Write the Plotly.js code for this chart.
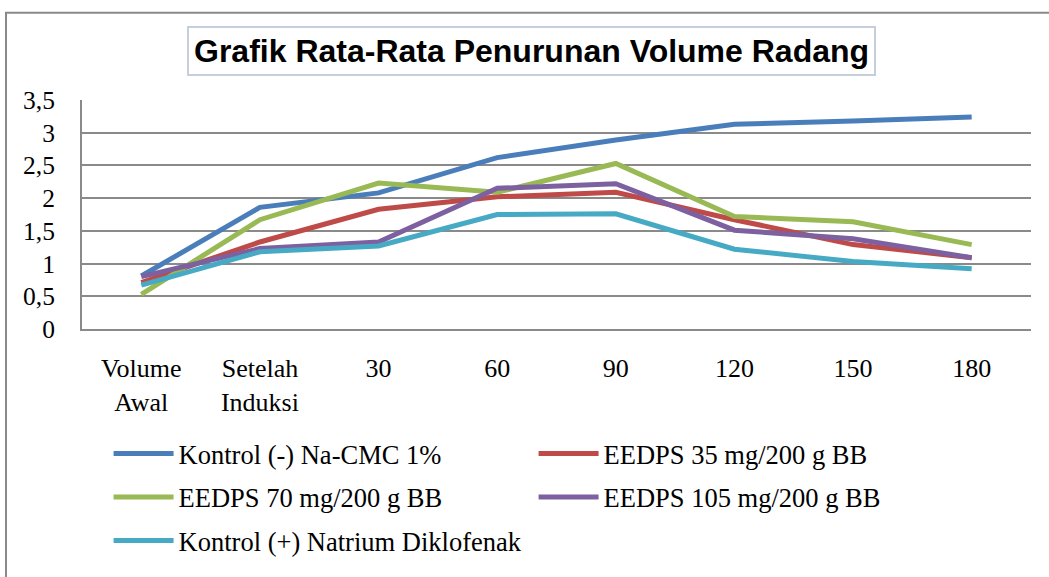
<!DOCTYPE html>
<html>
<head>
<meta charset="utf-8">
<script src="https://cdn.plot.ly/plotly-3.0.1.min.js"></script>
<style>html,body{margin:0;padding:0;background:#fff;}#chart{width:1049px;height:577px;}</style>
</head>
<body>
<div id="chart"></div>
<script>
const categories = ["Volume<br>Awal", "Setelah<br>Induksi", "30", "60", "90", "120", "150", "180"];
const seriesNames = ["Kontrol (-) Na-CMC 1%", "EEDPS 35 mg/200 g BB", "EEDPS 70 mg/200 g BB", "EEDPS 105 mg/200 g BB", "Kontrol (+) Natrium Diklofenak"];
const kontrolNeg = [0.81, 1.86, 2.08, 2.62, 2.89, 3.13, 3.18, 3.24];
const eedps35 = [0.71, 1.33, 1.83, 2.02, 2.09, 1.67, 1.29, 1.09];
const eedps70 = [0.53, 1.67, 2.23, 2.09, 2.53, 1.72, 1.64, 1.29];
const eedps105 = [0.80, 1.23, 1.33, 2.15, 2.22, 1.51, 1.38, 1.09];
const kontrolPos = [0.67, 1.18, 1.27, 1.75, 1.76, 1.22, 1.03, 0.92];
const yTicks = [0, 0.5, 1, 1.5, 2, 2.5, 3, 3.5];
const titleText = "Grafik Rata-Rata Penurunan Volume Radang";

const colors = ["#4a7ebb", "#be4b48", "#98b954", "#7d60a0", "#46aac5"];
const values = [kontrolNeg, eedps35, eedps70, eedps105, kontrolPos];
const legendIds = ["legend", "legend", "legend2", "legend2", "legend3"];

const traces = values.map((v, i) => ({
  type: "scatter",
  mode: "lines",
  x: categories,
  y: v,
  name: seriesNames[i],
  legend: legendIds[i],
  line: {color: colors[i], width: 5}
}));

const serif = "Liberation Serif, Times New Roman, serif";
const legendBase = {
  orientation: "h",
  xanchor: "left",
  yanchor: "middle",
  x: 0.028,
  font: {family: serif, size: 26.5, color: "#000"},
  bgcolor: "rgba(0,0,0,0)",
  borderwidth: 0,
  itemwidth: 60,
  entrywidth: 350,
  traceorder: "normal"
};

const layout = {
  width: 1049,
  height: 577,
  margin: {l: 82, r: 18, t: 100, b: 241},
  paper_bgcolor: "#fff",
  plot_bgcolor: "#fff",
  separators: ", ",
  showlegend: true,
  xaxis: {
    type: "category",
    range: [-0.5, 7.5],
    showgrid: false,
    showline: true,
    linecolor: "#8a8a8a",
    linewidth: 2,
    ticks: "",
    ticklabelstandoff: 15,
    tickfont: {family: serif, size: 26, color: "#000"},
    fixedrange: true
  },
  yaxis: {
    range: [0, 3.5],
    tickvals: yTicks,
    showgrid: true,
    gridcolor: "#8a8a8a",
    gridwidth: 2,
    showline: true,
    linecolor: "#8a8a8a",
    linewidth: 2,
    zeroline: false,
    ticks: "",
    ticklabelstandoff: 20,
    tickfont: {family: serif, size: 25.5, color: "#000"},
    fixedrange: true
  },
  legend: Object.assign({}, legendBase, {y: -0.545}),
  legend2: Object.assign({}, legendBase, {y: -0.735}),
  legend3: Object.assign({}, legendBase, {y: -0.925}),
  shapes: [
    {type: "rect", xref: "paper", yref: "paper",
     x0: (6 - 82) / 949, x1: 1.05, y0: -1.2, y1: (336 - 10) / 236,
     line: {color: "#8a8a8a", width: 2}, fillcolor: "rgba(0,0,0,0)", layer: "below"}
  ],
  annotations: [
    {text: "<b>" + titleText + "</b>", xref: "paper", yref: "paper",
     x: (531 - 82) / 949, y: (336 - 50) / 236, xanchor: "center", yanchor: "middle",
     showarrow: false,
     font: {family: "Liberation Sans, Arial, sans-serif", size: 32, color: "#000"},
     bgcolor: "#fff", bordercolor: "#c5cedb", borderwidth: 2, borderpad: 5}
  ]
};

Plotly.newPlot("chart", traces, layout, {displayModeBar: false, staticPlot: true});
</script>
</body>
</html>
